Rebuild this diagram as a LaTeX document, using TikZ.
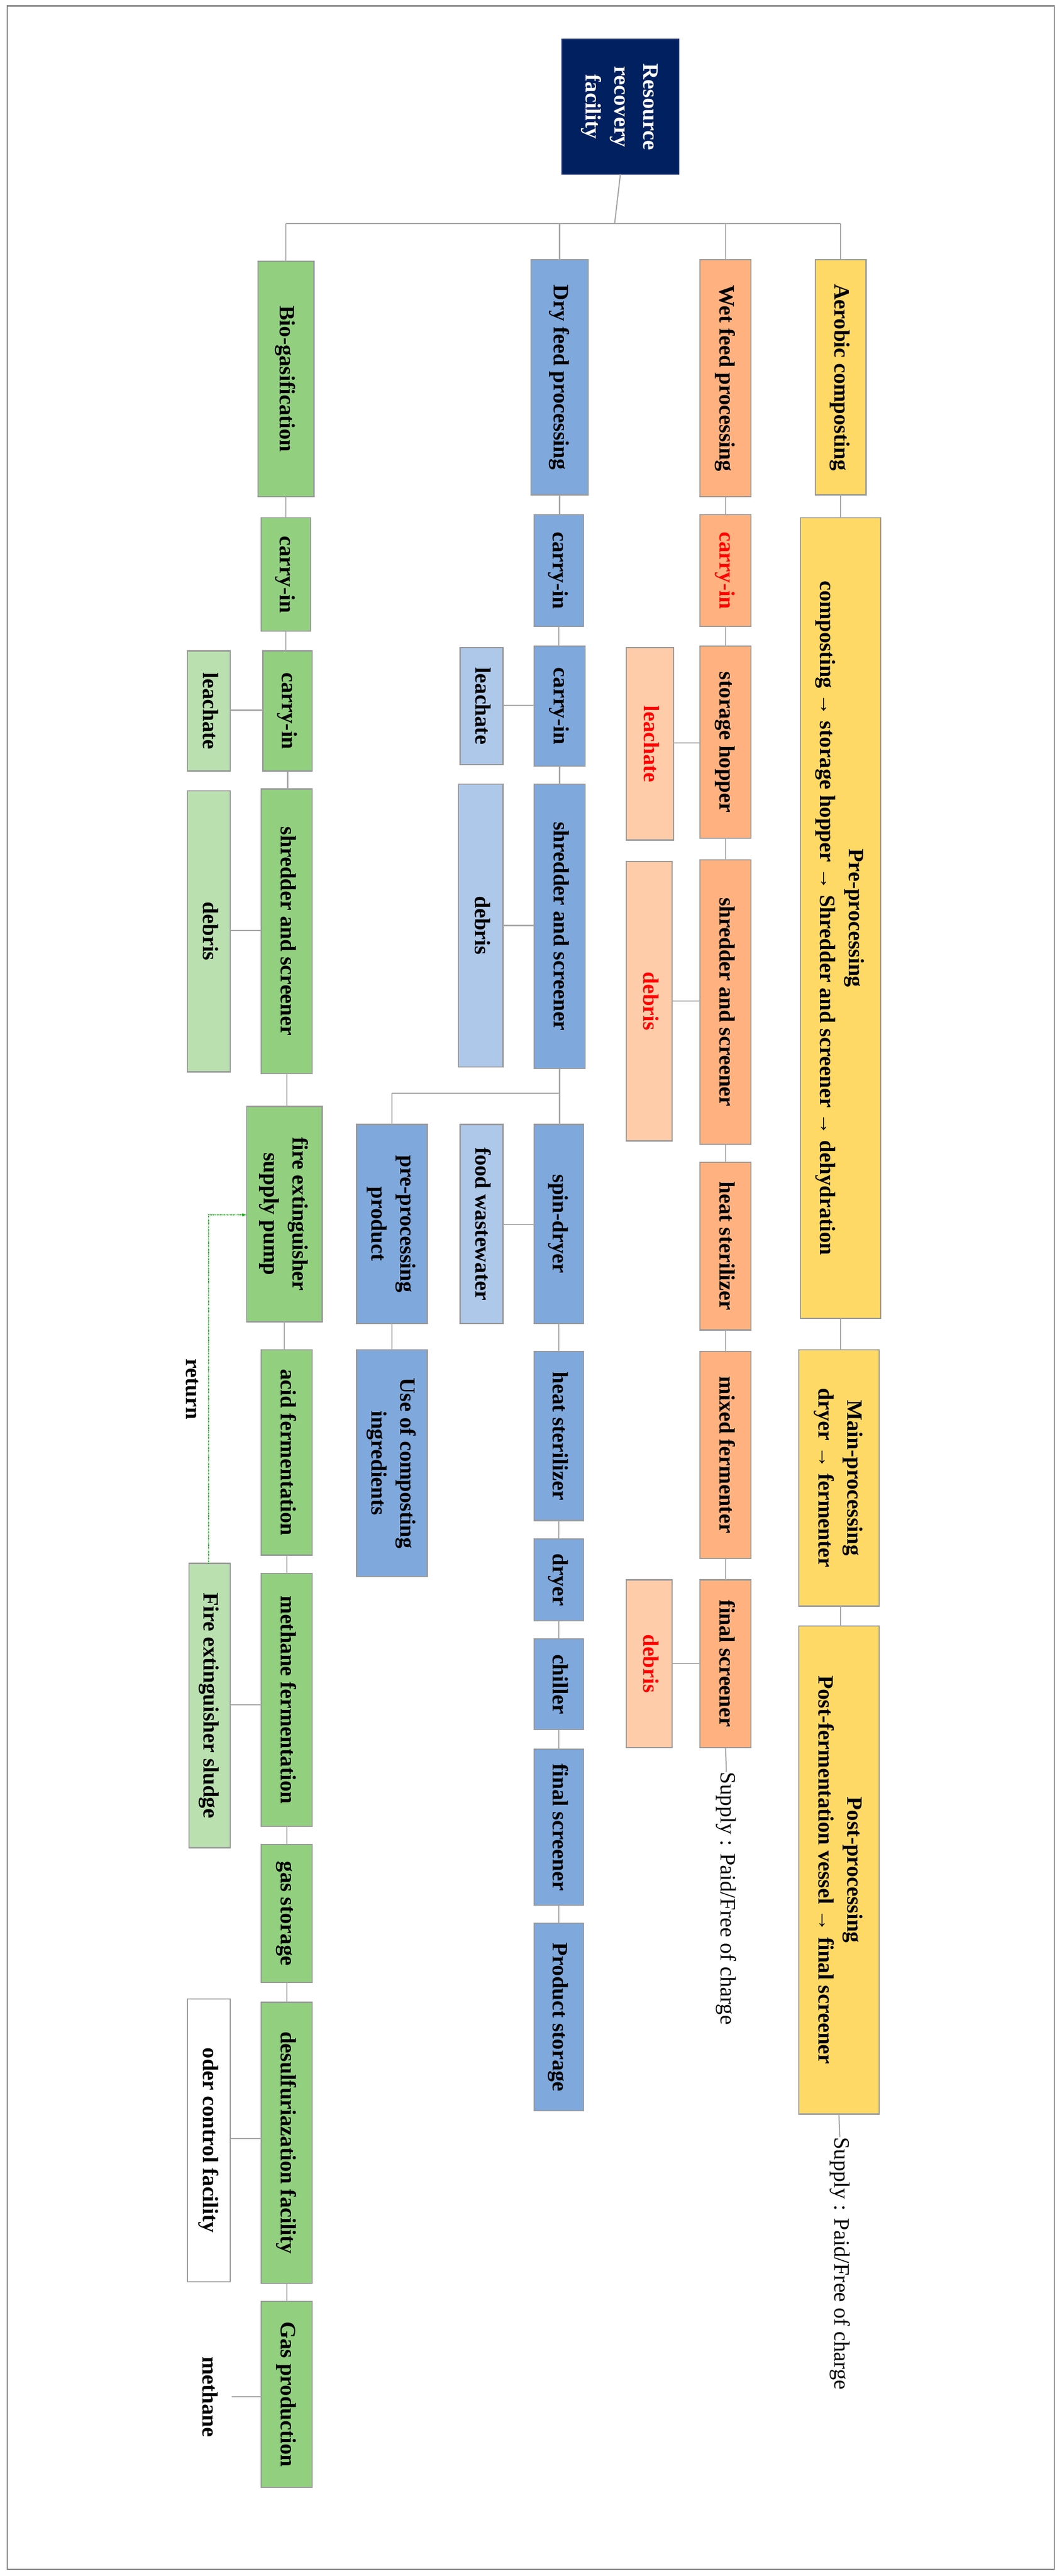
\documentclass[tikz,border=0pt]{standalone}
\usepackage{fontspec}
\setmainfont{Liberation Serif}
\begin{document}
\begin{tikzpicture}[x=1mm,y=-1mm,
 every node/.style={font=\fontsize{38}{50}\selectfont\bfseries, inner sep=0pt, outer sep=0pt},
 bb/.style={draw=gray!80, line width=2pt, rectangle},
 gr/.style={bb, fill=green!45!lime!30!gray!10!, fill={rgb,255:red,146;green,208;blue,128}},
 lgr/.style={bb, fill={rgb,255:red,186;green,224;blue,176}},
 bl/.style={bb, fill={rgb,255:red,127;green,168;blue,220}},
 lbl/.style={bb, fill={rgb,255:red,174;green,200;blue,234}},
 org/.style={bb, fill={rgb,255:red,255;green,178;blue,128}},
 lorg/.style={bb, fill={rgb,255:red,255;green,204;blue,170}},
 yel/.style={bb, fill={rgb,255:red,255;green,217;blue,102}},
 wht/.style={bb, fill=white},
 navy/.style={draw={rgb,255:red,40;green,60;blue,120}, line width=2pt, fill={rgb,255:red,0;green,32;blue,96}, text=white},
 ln/.style={draw=gray!70, line width=2pt}]
\newcommand\bx[7]{\node[#6, minimum width={(#3-#2)*1mm}, minimum height={(#5-#4)*1mm}] (#1) at ({(#2+#3)/2},{(#4+#5)/2}) {\rotatebox{-90}{\begin{tabular}{@{}c@{}}#7\end{tabular}}};}
\useasboundingbox (0,0) rectangle (646,1567);
\draw[gray, line width=2pt] (4.5,3.6) rectangle (641.5,1563);
% root
\bx{root}{342}{413}{24}{106}{navy}{Resource\\recovery\\facility}
\coordinate (bus) at (374,136);
% titles
\bx{bt}{157}{191}{159}{302}{gr}{Bio-gasification}
\bx{dt}{323}{358}{158}{301}{bl}{Dry feed processing}
\bx{wt}{426}{457}{158}{302}{org}{Wet feed processing}
\bx{at}{496}{527}{158}{301}{yel}{Aerobic composting}
\draw[ln] (root.south) -- (bus);
\draw[ln] (bt.north |- bus) -- (at.north |- bus);
\foreach \n in {bt,dt,wt,at} \draw[ln] (\n.north |- bus) -- (\n.north);
% Bio column
\bx{b1}{159}{189}{315}{384}{gr}{carry-in}
\bx{b2}{160}{190}{396}{469}{gr}{carry-in}
\bx{bl1}{114}{140}{396}{469}{lgr}{leachate}
\bx{b3}{159}{190}{480}{653}{gr}{shredder and screener}
\bx{bd}{114}{140}{481}{652}{lgr}{debris}
\bx{b4}{150}{196}{673}{804}{gr}{fire extinguisher\\supply pump}
\bx{b5}{159}{190}{821}{946}{gr}{acid fermentation}
\bx{b6}{159}{190}{957}{1111}{gr}{methane fermentation}
\bx{bs}{115}{140}{951}{1124}{lgr}{Fire extinguisher sludge}
\bx{b7}{159}{190}{1122}{1206}{gr}{gas storage}
\bx{b8}{159}{190}{1218}{1389}{gr}{desulfuriazation facility}
\bx{bo}{114}{140}{1216}{1388}{wht}{oder control facility}
\bx{b9}{159}{190}{1400}{1513}{gr}{Gas production}
\node (meth) at (128,1458) {\rotatebox{-90}{methane}};
\node (ret) at (117,845) {\rotatebox{-90}{return}};
\draw[ln] (bt.south) -- (b1.north);
\foreach \a/\b in {b1/b2,b2/b3,b3/b4,b4/b5,b5/b6,b6/b7,b7/b8,b8/b9} \draw[ln] (\a.south) -- (\a.south |- \b.north);
\draw[ln] (b2.west |- 0,432) -- (bl1.east |- 0,432);
\draw[ln] (b3.west |- 0,566) -- (bd.east |- 0,566);
\draw[ln] (b6.west |- 0,1037) -- (bs.east |- 0,1037);
\draw[ln] (b8.west |- 0,1301) -- (bo.east |- 0,1301);
\draw[ln] (b9.west |- 0,1458) -- (141,1458);
\draw[green!70!black, line width=1.5pt, densely dotted, -latex] (bs.north -| 127,0) |- (b4.west |- 0,739);
% Dry column
\bx{d1}{325}{355}{313}{381}{bl}{carry-in}
\bx{d2}{325}{356}{393}{466}{bl}{carry-in}
\bx{dl1}{280}{306}{394}{465}{lbl}{leachate}
\bx{d3}{325}{356}{477}{650}{bl}{shredder and screener}
\bx{dd}{279}{306}{477}{649}{lbl}{debris}
\bx{d4}{325}{355}{684}{805}{bl}{spin-dryer}
\bx{dfw}{280}{306}{684}{805}{lbl}{food wastewater}
\bx{dp}{217}{260}{684}{805}{bl}{pre-processing\\product}
\bx{du}{217}{260}{821}{959}{bl}{Use of composting\\ingredients}
\bx{d5}{325}{355}{822}{925}{bl}{heat sterilizer}
\bx{d6}{325}{355}{936}{986}{bl}{dryer}
\bx{d7}{325}{355}{997}{1052}{bl}{chiller}
\bx{d8}{325}{355}{1064}{1159}{bl}{final screener}
\bx{d9}{325}{355}{1170}{1284}{bl}{Product storage}
\coordinate (br) at (340,665);
\draw[ln] (dt.south) -- (dt.south |- d1.north);
\foreach \a/\b in {d1/d2,d2/d3,d4/d5,d5/d6,d6/d7,d7/d8,d8/d9,dp/du} \draw[ln] (\a.south) -- (\a.south |- \b.north);
\draw[ln] (d3.south) -- (d3.south |- br);
\draw[ln] (dp.north |- br) -- (d3.south |- br);
\draw[ln] (dp.north |- br) -- (dp.north);
\draw[ln] (d3.south |- br) -- (d3.south |- d4.north);
\draw[ln] (d2.west |- 0,429) -- (dl1.east |- 0,429);
\draw[ln] (d3.west |- 0,563) -- (dd.east |- 0,563);
\draw[ln] (d4.west |- 0,745) -- (dfw.east |- 0,745);
% Wet column
\bx{w1}{426}{457}{313}{381}{org}{\textcolor{red}{carry-in}}
\bx{w2}{426}{457}{393}{510}{org}{storage hopper}
\bx{wl1}{381}{410}{394}{511}{lorg}{\textcolor{red}{leachate}}
\bx{w3}{426}{457}{523}{696}{org}{shredder and screener}
\bx{wd}{381}{409}{524}{694}{lorg}{\textcolor{red}{debris}}
\bx{w4}{426}{457}{707}{809}{org}{heat sterilizer}
\bx{w5}{426}{457}{822}{948}{org}{mixed fermenter}
\bx{w6}{426}{457}{961}{1063}{org}{final screener}
\bx{wd2}{381}{409}{961}{1063}{lorg}{\textcolor{red}{debris}}
\node[anchor=north] (ws) at (442,1078) {\rotatebox{-90}{\fontseries{m}\selectfont Supply : Paid/Free of charge}};
\draw[ln] (wt.south) -- (wt.south |- w1.north);
\foreach \a/\b in {w1/w2,w2/w3,w3/w4,w4/w5,w5/w6} \draw[ln] (\a.south) -- (\a.south |- \b.north);
\draw[ln] (w2.west |- 0,452) -- (wl1.east |- 0,452);
\draw[ln] (w3.west |- 0,609) -- (wd.east |- 0,609);
\draw[ln] (w6.west |- 0,1012) -- (wd2.east |- 0,1012);
\draw[ln] (w6.south) -- (ws.north);
% Aerobic column
\bx{a1}{487}{536}{315}{802}{yel}{Pre-processing\\composting \textrightarrow{} storage hopper \textrightarrow{} Shredder and screener \textrightarrow{} dehydration}
\bx{a2}{486}{535}{821}{977}{yel}{Main-processing\\dryer \textrightarrow{} fermenter}
\bx{a3}{486}{535}{989}{1286}{yel}{Post-processing\\Post-fermentation vessel \textrightarrow{} final screener}
\node[anchor=north] (as) at (511,1300) {\rotatebox{-90}{\fontseries{m}\selectfont Supply : Paid/Free of charge}};
\draw[ln] (at.south) -- (at.south |- a1.north);
\foreach \a/\b in {a1/a2,a2/a3} \draw[ln] (\a.south -| at.south) -- (at.south |- \b.north);
\draw[ln] (a3.south) -- (as.north);
\end{tikzpicture}
\end{document}
